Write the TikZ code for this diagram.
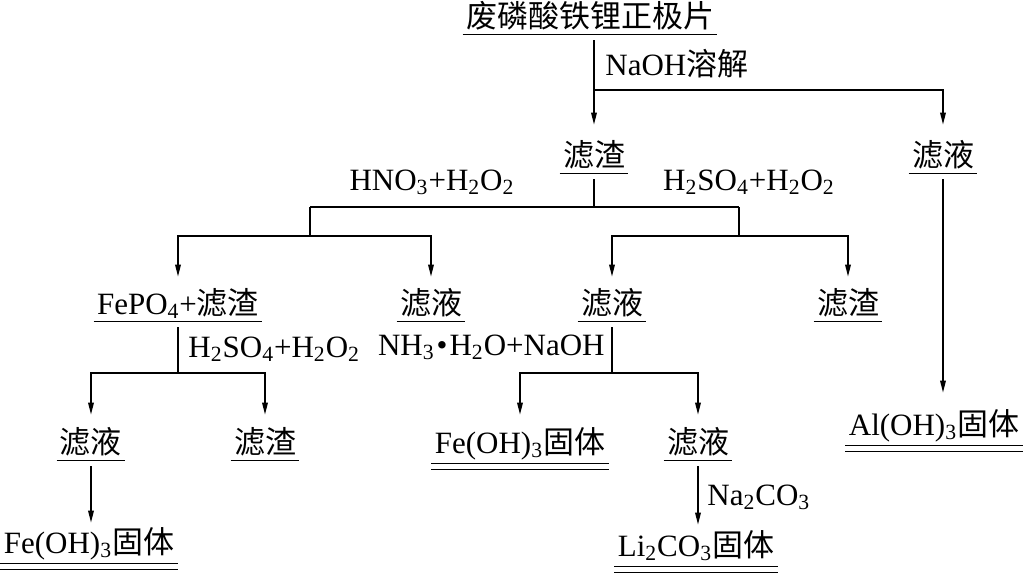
\documentclass[tikz,border=0pt]{standalone}
\usepackage{fontspec}
\setmainfont{Liberation Serif}
\newfontfamily\cjkfont{Noto Sans CJK SC}
\newcommand{\hz}[1]{{\cjkfont #1}}
\usetikzlibrary{arrows.meta}
\tikzset{
  pipe/.style={draw,line width=0.7pt},
  flow/.style={pipe,-{Triangle[length=6pt,width=2.8pt]},shorten >=5pt},
  leave/.style={shorten <=3pt},
  item/.style={inner xsep=1.5pt,inner ysep=0pt,text height=14pt,text depth=3.5pt,anchor=base},
  stage/.style={item,append after command={
    (\tikzlastnode.south west) edge[pipe] (\tikzlastnode.south east)}},
  solid/.style={item,append after command={
    ([yshift=-1.5pt]\tikzlastnode.south west) edge[pipe] ([yshift=-1.5pt]\tikzlastnode.south east)
    ([yshift=-4.5pt]\tikzlastnode.south west) edge[pipe] ([yshift=-4.5pt]\tikzlastnode.south east)}},
  reagent/.style={inner sep=0pt,anchor=base}
}
\begin{document}
\begin{tikzpicture}[x=0.5pt,y=-0.5pt,font=\fontsize{15.5}{18}\selectfont]
  \useasboundingbox (0,0) rectangle (1024,574);
  % materials
  \node[stage] (raw) at (590,27) {\hz{废磷酸铁锂正极片}};
  \node[stage] (res1) at (594,166) {\hz{滤渣}};
  \node[stage] (sol1) at (943,166) {\hz{滤液}};
  \node[stage] (fepo) at (178,314) {FePO\textsubscript{4}+\hz{滤渣}};
  \node[stage] (sol2) at (431,314) {\hz{滤液}};
  \node[stage] (sol3) at (612,314) {\hz{滤液}};
  \node[stage] (res2) at (848,314) {\hz{滤渣}};
  \node[stage] (sol4) at (91,453) {\hz{滤液}};
  \node[stage] (res3) at (265,453) {\hz{滤渣}};
  \node[solid] (feoh1) at (520,453) {Fe(OH)\textsubscript{3}\hz{固体}};
  \node[stage] (sol5) at (698,453) {\hz{滤液}};
  \node[solid] (feoh2) at (89,553) {Fe(OH)\textsubscript{3}\hz{固体}};
  \node[solid] (li) at (696,556) {Li\textsubscript{2}CO\textsubscript{3}\hz{固体}};
  \node[solid] (aloh) at (934,435) {Al(OH)\textsubscript{3}\hz{固体}};
  % reagents
  \node[reagent,anchor=base west] (naoh) at (605,75) {NaOH\hz{溶解}};
  \node[reagent] (hno) at (432,190) {HNO\textsubscript{3}+H\textsubscript{2}O\textsubscript{2}};
  \node[reagent] (hso1) at (749,190) {H\textsubscript{2}SO\textsubscript{4}+H\textsubscript{2}O\textsubscript{2}};
  \node[reagent,anchor=base west] (hso2) at (188,357) {H\textsubscript{2}SO\textsubscript{4}+H\textsubscript{2}O\textsubscript{2}};
  \node[reagent,anchor=base east] (nh) at (605,355) {NH\textsubscript{3}\kern1pt•\kern1pt H\textsubscript{2}O+NaOH};
  \node[reagent,anchor=base west] (naco) at (707,505) {Na\textsubscript{2}CO\textsubscript{3}};
  % junctions
  \coordinate (j0) at (594,90);
  \coordinate (j1) at (594,207);
  \coordinate (j1l) at (310,236);
  \coordinate (j1r) at (739,236);
  \coordinate (j2) at (178,373);
  \coordinate (j3) at (612,373);
  % connectors
  \draw[flow,leave,shorten >=6.5pt] (raw.south -| res1) -- (res1.north);
  \draw[flow,shorten >=6.5pt] (j0) -| (sol1.north);
  \draw[pipe,leave] (res1.south) -- (j1);
  \draw[pipe] (j1l |- j1) -- (j1r |- j1);
  \draw[pipe] (j1l |- j1) -- (j1l);
  \draw[pipe] (j1r |- j1) -- (j1r);
  \draw[flow,shorten >=4.5pt] (j1l) -| (fepo.north);
  \draw[flow,shorten >=4.5pt] (j1l) -| (sol2.north);
  \draw[flow,shorten >=4.5pt] (j1r) -| (sol3.north);
  \draw[flow,shorten >=4.5pt] (j1r) -| (res2.north);
  \draw[pipe,leave] (fepo.south) -- (j2);
  \draw[flow] (j2) -| (sol4.north);
  \draw[flow] (j2) -| (res3.north);
  \draw[pipe,leave] (sol3.south) -- (j3);
  \draw[flow] (j3) -| (feoh1.north);
  \draw[flow] (j3) -| (sol5.north);
  \draw[flow,leave,shorten >=1pt] (sol4.south) -- (sol4.south |- feoh2.north);
  \draw[flow,leave,shorten >=1.5pt] (sol5.south) -- (sol5.south |- li.north);
  \draw[flow,leave,shorten >=7pt] (sol1.south) -- (sol1.south |- aloh.north);
\end{tikzpicture}
\end{document}
